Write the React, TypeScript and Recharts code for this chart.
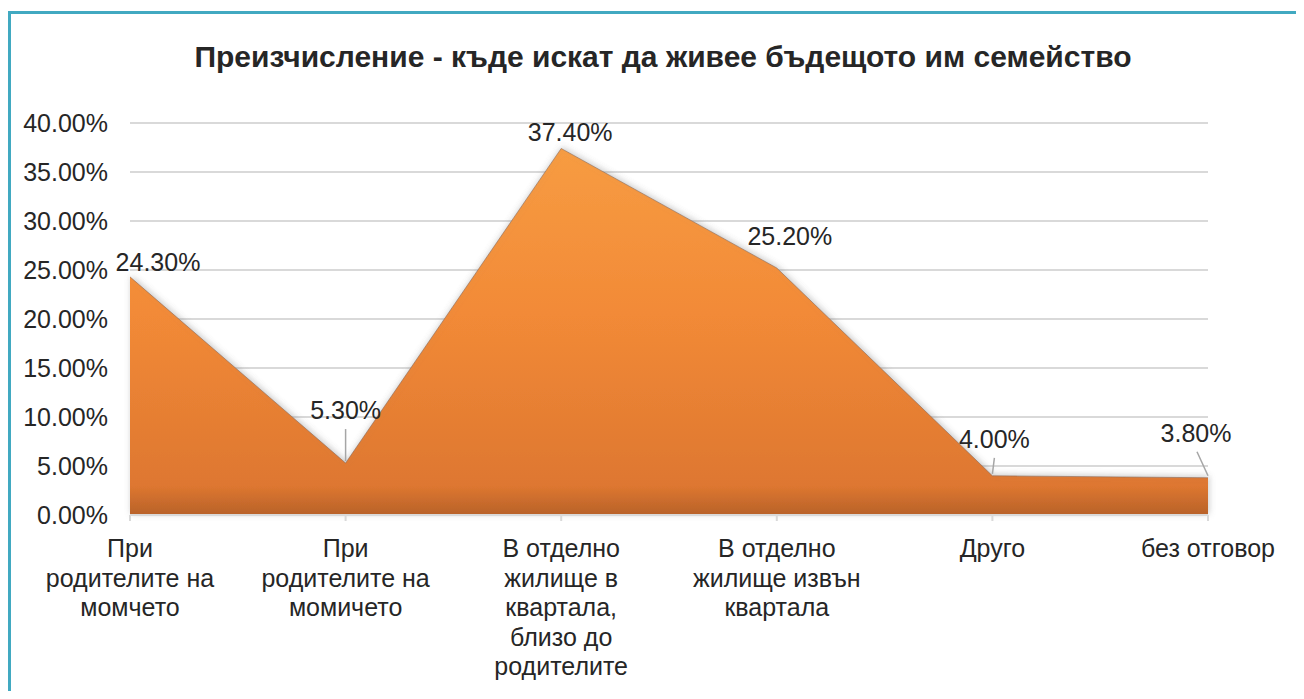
import React from 'react';
import { AreaChart, Area, XAxis, YAxis, CartesianGrid, LabelList } from 'recharts';

const categories = [
  'При|родителите на|момчето',
  'При|родителите на|момичето',
  'В отделно|жилище в|квартала,|близо до|родителите',
  'В отделно|жилище извън|квартала',
  'Друго',
  'без отговор',
];
const values = [0.243, 0.053, 0.374, 0.252, 0.04, 0.038];
const valueLabels = ['24.30%', '5.30%', '37.40%', '25.20%', '4.00%', '3.80%'];
const yTicks = [0, 0.05, 0.1, 0.15, 0.2, 0.25, 0.3, 0.35, 0.4];
const title = 'Преизчисление - къде искат да живее бъдещото им семейство';

// label placement relative to point: [dx, dy of text center, leader line?]
const labelLayout: [number, number, boolean][] = [
  [28, -15, false],
  [0, -53, true],
  [9, -16, false],
  [13, -32, false],
  [2, -37, true],
  [-12, -45, true],
];

const data = categories.map((c, i) => ({ name: c, value: values[i], label: valueLabels[i] }));

const FONT = 'Liberation Sans, Arial, sans-serif';
const TEXT = '#262626';

const XTick = (props: any) => {
  const { x, y, payload } = props;
  const lines = String(payload.value).split('|');
  return (
    <text x={x} y={y} textAnchor="middle" fontFamily={FONT} fontSize={25} fill={TEXT}>
      {lines.map((l, i) => (
        <tspan key={i} x={x} dy={i === 0 ? 34 : 29.5}>{l}</tspan>
      ))}
    </text>
  );
};

const ValueLabel = (props: any) => {
  const { x, y, index } = props;
  const [dx, dy, leader] = labelLayout[index];
  const cx = x + dx;
  const cy = y + dy;
  return (
    <g>
      {leader && (
        <line x1={cx + (index === 5 ? 1 : 0)} y1={cy + 19} x2={x} y2={y - 2} stroke="#a6a6a6" strokeWidth={1.5} />
      )}
      <text x={cx} y={cy + 9} textAnchor="middle" fontFamily={FONT} fontSize={25} fill={TEXT}>
        {data[index].label}
      </text>
    </g>
  );
};

export default function App() {
  return (
    <div style={{ paddingTop: 3 }}>
      <div
        style={{
          width: 1293,
          height: 677,
          borderTop: '3px solid #41A9C1',
          borderLeft: '3px solid #41A9C1',
          position: 'relative',
          background: '#fff',
        }}
      >
        <div
          style={{
            position: 'absolute',
            left: 0,
            top: 26,
            width: 1304,
            textAlign: 'center',
            fontFamily: FONT,
            fontWeight: 'bold',
            fontSize: 30,
            lineHeight: '34px',
            color: TEXT,
          }}
        >
          {title}
        </div>
        <AreaChart
          width={1293}
          height={677}
          data={data}
          margin={{ top: 109, right: 96, left: 0, bottom: 6 }}
        >
          <defs>
            <linearGradient id="orangeFill" x1="0" y1="0" x2="0" y2="1">
              <stop offset="0%" stopColor="#F79C42" />
              <stop offset="45%" stopColor="#F28A37" />
              <stop offset="92%" stopColor="#DE7730" />
              <stop offset="100%" stopColor="#B8622A" />
            </linearGradient>
            <filter id="shadow" x="-5%" y="-10%" width="110%" height="120%">
              <feDropShadow dx="1" dy="-1" stdDeviation="3" floodColor="#888" floodOpacity="0.45" />
            </filter>
          </defs>
          <CartesianGrid vertical={false} stroke="#d9d9d9" strokeWidth={2} />
          <XAxis
            dataKey="name"
            interval={0}
            height={170}
            axisLine={{ stroke: '#d9d9d9', strokeWidth: 2 }}
            tickLine={{ stroke: '#d9d9d9', strokeWidth: 2 }}
            tickSize={6}
            tickMargin={2}
            tick={<XTick />}
          />
          <YAxis
            width={119}
            domain={[0, 0.4]}
            ticks={yTicks}
            interval={0}
            axisLine={false}
            tickLine={false}
            tickSize={0}
            tickMargin={22}
            tickFormatter={(v: number) => (v * 100).toFixed(2) + '%'}
            tick={{ fontFamily: FONT, fontSize: 25, fill: TEXT }}
          />
          <Area
            type="linear"
            dataKey="value"
            stroke="#8a6a55"
            strokeWidth={1}
            strokeOpacity={0.6}
            fill="url(#orangeFill)"
            fillOpacity={1}
            isAnimationActive={false}
            style={{ filter: 'url(#shadow)' }}
          >
            <LabelList dataKey="value" content={<ValueLabel />} />
          </Area>
        </AreaChart>
      </div>
    </div>
  );
}
